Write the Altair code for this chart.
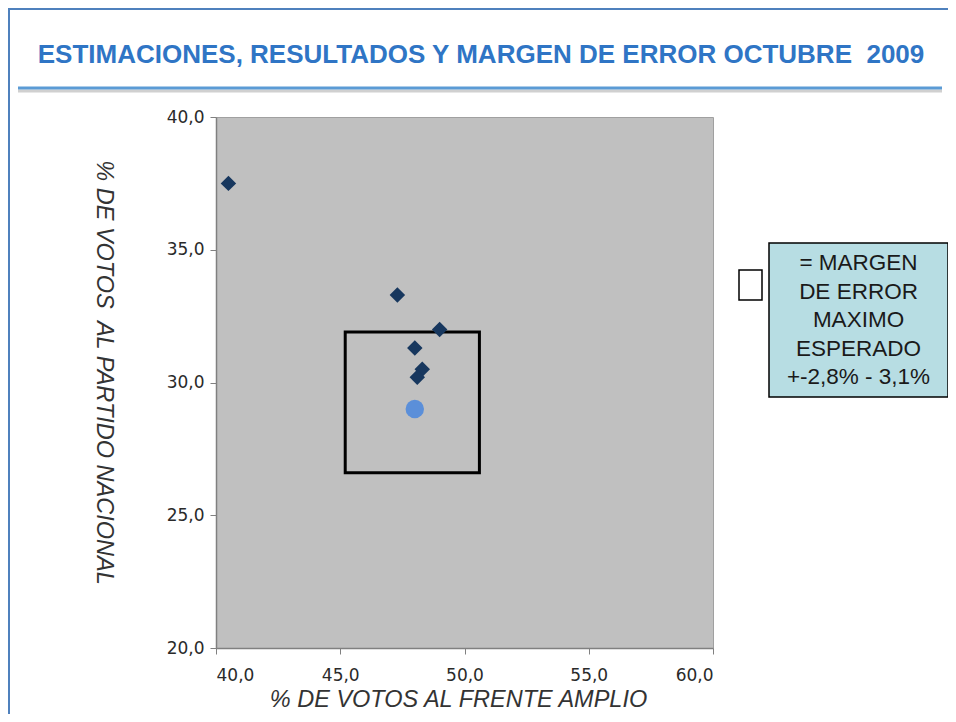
import altair as alt
import pandas as pd

# ---- data ----
fa_estimates = [40.5, 47.3, 49.0, 48.0, 48.3, 48.1]
pn_estimates = [37.5, 33.3, 32.0, 31.3, 30.5, 30.2]
fa_result = [48.0]
pn_result = [29.0]
box_fa = [45.2, 50.6]
box_pn = [26.6, 31.9]
x_ticks = [40, 45, 50, 55, 60]
y_ticks = [20, 25, 30, 35, 40]
title_text = "ESTIMACIONES, RESULTADOS Y MARGEN DE ERROR OCTUBRE\u00a0 2009"
x_title = "% DE VOTOS AL FRENTE AMPLIO"
y_title = "% DE VOTOS\u00a0 AL PARTIDO NACIONAL"
legend_lines = ["= MARGEN", "DE ERROR", "MAXIMO", "ESPERADO", "+-2,8% - 3,1%"]

W, H = 497, 531
label_expr = "replace(format(datum.value, '.1f'), '.', ',')"

xscale = alt.Scale(domain=[40, 60], nice=False, zero=False)
yscale = alt.Scale(domain=[20, 40], nice=False, zero=False)

common_axis = dict(
    grid=False, labelExpr=label_expr, labelFont="DejaVu Sans", labelFontSize=17,
    labelColor="#2a2a2a", tickColor="#808080", tickSize=6, domainColor="#808080",
    domainWidth=1.5, titleFont="Liberation Sans", titleFontStyle="italic",
    titleFontWeight="normal", titleFontSize=23.5, titleColor="#333333",
)
xaxis = alt.Axis(values=x_ticks, title=x_title, labelPadding=13,
                 titleX=242, titleY=51, titleBaseline="middle", titleAlign="center",
                 **common_axis)
yaxis = alt.Axis(values=y_ticks, title=y_title, labelPadding=6,
                 titleAngle=90, titleX=-113, titleY=255, titleBaseline="middle",
                 titleAlign="center", **common_axis)

est_df = pd.DataFrame({"fa": fa_estimates, "pn": pn_estimates})
res_df = pd.DataFrame({"fa": fa_result, "pn": pn_result})
box_df = pd.DataFrame({"x1": [box_fa[0]], "x2": [box_fa[1]], "y1": [box_pn[0]], "y2": [box_pn[1]]})
one = pd.DataFrame({"k": [0]})
legend_df = pd.DataFrame({"t": ["\n".join(legend_lines)]})

frame = alt.Chart(one).mark_rect(fillOpacity=0, stroke="#4f81bd", strokeWidth=2).encode(
    x=alt.value(-207), x2=alt.value(750), y=alt.value(-108), y2=alt.value(640))

shadow = alt.Chart(one).mark_rule(color="#d0d0d0", strokeWidth=3).encode(
    x=alt.value(-198), x2=alt.value(726), y=alt.value(-26))
title_line = alt.Chart(one).mark_rule(color="#5b9bd5", strokeWidth=3).encode(
    x=alt.value(-198), x2=alt.value(726), y=alt.value(-29))

title = alt.Chart(one).mark_text(
    text=title_text, font="Liberation Sans", fontWeight="bold", fontSize=26,
    color="#2f75c5", align="center", baseline="middle").encode(
    x=alt.value(265), y=alt.value(-62))

legend_box = alt.Chart(one).mark_rect(fill="#b7dde3", stroke="black", strokeWidth=1.5).encode(
    x=alt.value(553), x2=alt.value(732), y=alt.value(126), y2=alt.value(280))
legend_symbol = alt.Chart(one).mark_rect(fill="white", stroke="black", strokeWidth=1.5).encode(
    x=alt.value(523), x2=alt.value(546), y=alt.value(153), y2=alt.value(183))
legend_text = alt.Chart(legend_df).mark_text(
    lineBreak="\n", lineHeight=28.5, font="Liberation Sans", fontSize=22.5,
    color="#1a1a1a", align="center", baseline="middle").encode(
    text="t:N", x=alt.value(642.5), y=alt.value(146))

box = alt.Chart(box_df).mark_rect(fillOpacity=0, stroke="black", strokeWidth=3).encode(
    x=alt.X("x1:Q", scale=xscale, axis=xaxis),
    x2="x2:Q",
    y=alt.Y("y1:Q", scale=yscale, axis=yaxis),
    y2="y2:Q",
)

points = alt.Chart(est_df).mark_point(shape="diamond", filled=True, size=240,
                                      color="#17375e", opacity=1).encode(
    x=alt.X("fa:Q", scale=xscale, axis=xaxis),
    y=alt.Y("pn:Q", scale=yscale, axis=yaxis),
)

result = alt.Chart(res_df).mark_circle(size=340, color="#5b8fd9", opacity=1).encode(
    x=alt.X("fa:Q", scale=xscale, axis=xaxis),
    y=alt.Y("pn:Q", scale=yscale, axis=yaxis),
)

chart = alt.layer(
    frame, shadow, title_line, title, legend_box, legend_symbol, legend_text,
    box, points, result
).properties(
    width=W, height=H,
    autosize=alt.AutoSizeParams(type="none"),
    padding={"left": 208, "top": 109, "right": 235, "bottom": 66},
    background="white",
).configure_view(fill="#c0c0c0", stroke="#a0a0a0", strokeWidth=1)

chart.save("out.html", embed_options={"renderer": "svg", "actions": False})
